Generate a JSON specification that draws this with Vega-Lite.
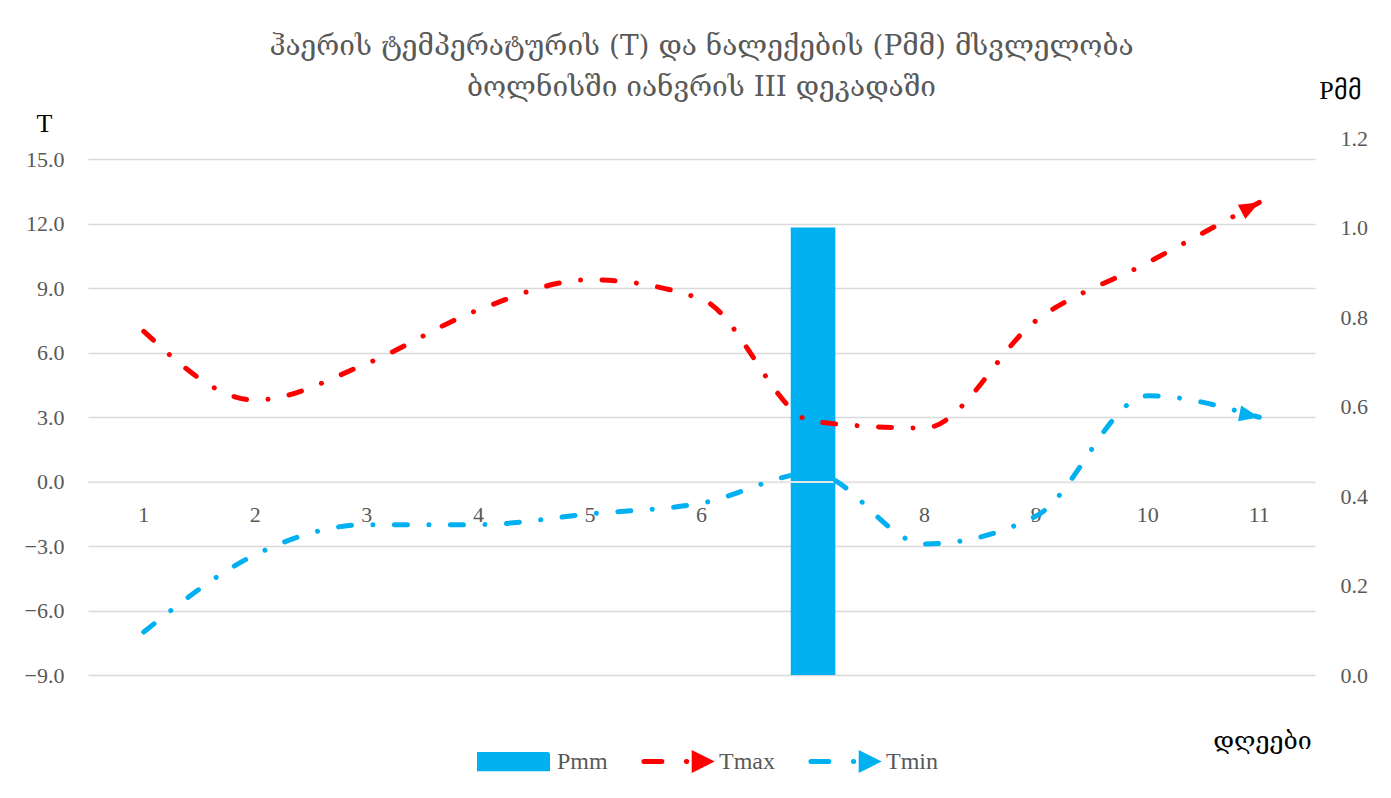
{
  "$schema": "https://vega.github.io/schema/vega-lite/v6.json",
  "width": 1227,
  "height": 537,
  "autosize": "none",
  "padding": {"left": 88, "top": 138, "right": 76, "bottom": 123},
  "background": "white",
  "config": {
    "view": {"stroke": null},
    "axis": {"labelFont": "Liberation Serif", "labelFontSize": 22, "labelColor": "#595959", "titleFontWeight": "normal"},
    "legend": {"labelFont": "Liberation Serif", "labelFontSize": 24, "labelColor": "#595959"}
  },
  "title": {
    "text": ["ჰაერის ტემპერატურის (T) და ნალექების (Pმმ)  მსვლელობა", "ბოლნისში  იანვრის III დეკადაში"],
    "font": "DejaVu Serif",
    "fontSize": 28,
    "fontWeight": "normal",
    "color": "#595959",
    "lineHeight": 41,
    "anchor": "middle",
    "frame": "group",
    "offset": 0,
    "dy": 25
  },
  "data": {
    "values": [
      {"day": 1, "Tmax": 7.0, "Tmin": -7.0, "Pmm": 0},
      {"day": 2, "Tmax": 3.8, "Tmin": -3.4, "Pmm": 0},
      {"day": 3, "Tmax": 5.5, "Tmin": -2.0, "Pmm": 0},
      {"day": 4, "Tmax": 8.0, "Tmin": -2.0, "Pmm": 0},
      {"day": 5, "Tmax": 9.4, "Tmin": -1.5, "Pmm": 0},
      {"day": 6, "Tmax": 8.5, "Tmin": -1.0, "Pmm": 0},
      {"day": 7, "Tmax": 2.8, "Tmin": 0.4, "Pmm": 1.0},
      {"day": 8, "Tmax": 2.5, "Tmin": -2.9, "Pmm": 0},
      {"day": 9, "Tmax": 7.5, "Tmin": -1.6, "Pmm": 0},
      {"day": 10, "Tmax": 10.2, "Tmin": 4.0, "Pmm": 0},
      {"day": 11, "Tmax": 13.0, "Tmin": 3.0, "Pmm": 0}
    ]
  },
  "encoding": {
    "x": {
      "field": "day",
      "type": "ordinal",
      "scale": {"type": "band", "paddingInner": 0, "paddingOuter": 0},
      "axis": {
        "orient": "bottom",
        "offset": -193,
        "labelAngle": 0,
        "domain": false,
        "ticks": false,
        "labelPadding": 22,
        "title": "დღეები",
        "titleFont": "DejaVu Serif",
        "titleFontSize": 25,
        "titleColor": "#000000",
        "titleX": 1174,
        "titleY": 258,
        "titleAlign": "center",
        "titleBaseline": "middle"
      }
    }
  },
  "layer": [
    {
      "transform": [{"filter": "datum.Pmm > 0"}],
      "mark": {"type": "bar", "width": {"band": 0.4}},
      "encoding": {
        "y": {
          "field": "Pmm",
          "type": "quantitative",
          "scale": {"domain": [0, 1.2], "nice": false, "zero": true},
          "axis": {
            "orient": "right",
            "values": [0, 0.2, 0.4, 0.6, 0.8, 1.0, 1.2],
            "format": ".1f",
            "grid": false,
            "domain": false,
            "ticks": false,
            "labelPadding": 25,
            "title": "Pმმ",
            "titleFont": "Liberation Serif",
            "titleFontSize": 26,
            "titleColor": "#000000",
            "titleAngle": 0,
            "titleX": 25,
            "titleY": -48,
            "titleAlign": "center",
            "titleBaseline": "middle"
          }
        },
        "color": {
          "datum": "Pmm",
          "type": "nominal",
          "scale": {"domain": ["Pmm", "Tmax", "Tmin"], "range": ["#00B0F0", "#FF0000", "#00B0F0"]},
          "legend": {
            "title": null,
            "orient": "none",
            "direction": "horizontal",
            "legendX": 389,
            "legendY": 587,
            "symbolSize": 4624,
            "labelOffset": 7,
            "columnPadding": 25,
            "padding": 0,
            "encode": {
              "symbols": {
                "update": {
                  "shape": [
                    {"test": "datum.value === 'Pmm'", "value": "M-1,-0.21H1V0.21H-1Z"},
                    {"value": "M-0.93,0H-0.4M0.32,0H0.33M0.55,-0.22L0.99,0L0.55,0.22Z"}
                  ],
                  "fill": [
                    {"test": "datum.value === 'Tmax'", "value": "#FF0000"},
                    {"value": "#00B0F0"}
                  ],
                  "stroke": [
                    {"test": "datum.value === 'Pmm'", "value": "transparent"},
                    {"test": "datum.value === 'Tmax'", "value": "#FF0000"},
                    {"value": "#00B0F0"}
                  ],
                  "strokeWidth": {"value": 5},
                  "strokeCap": {"value": "round"},
                  "strokeDash": {"value": [1, 0]},
                  "opacity": {"value": 1},
                  "fillOpacity": {"value": 1},
                  "strokeOpacity": {"value": 1}
                }
              }
            }
          }
        }
      }
    },
    {
      "layer": [
        {
          "mark": {"type": "rule", "color": "#E6E6E6", "strokeWidth": 1.5},
          "encoding": {"y": {"datum": 0, "type": "quantitative"}, "x": {}}
        },
        {
          "transform": [{"fold": ["Tmax", "Tmin"], "as": ["series", "T"]}],
          "mark": {
            "type": "line",
            "interpolate": "monotone",
            "strokeWidth": 5,
            "strokeCap": "round",
            "strokeDash": [13, 21.5, 0.01, 21.5]
          },
          "encoding": {
            "y": {
              "field": "T",
              "type": "quantitative",
              "scale": {"domain": [-9, 16], "nice": false, "zero": false},
              "axis": {
                "orient": "left",
                "values": [-9, -6, -3, 0, 3, 6, 9, 12, 15],
                "format": ".1f",
                "grid": true,
                "gridColor": "#D9D9D9",
                "gridWidth": 1.5,
                "domain": false,
                "ticks": false,
                "labelPadding": 24,
                "title": "T",
                "titleFont": "Liberation Serif",
                "titleFontSize": 26,
                "titleColor": "#000000",
                "titleAngle": 0,
                "titleX": -44,
                "titleY": -15,
                "titleAlign": "center",
                "titleBaseline": "middle"
              }
            },
            "color": {"field": "series", "type": "nominal", "legend": {"title": null}},
            "detail": {"field": "series"}
          }
        },
        {
          "transform": [{"filter": "datum.day === 11"}],
          "mark": {"type": "point", "shape": "M0,0L-2,-0.8L-2,0.8Z", "size": 400, "filled": true, "color": "#FF0000", "opacity": 1, "angle": 332},
          "encoding": {"y": {"field": "Tmax", "type": "quantitative"}}
        },
        {
          "transform": [{"filter": "datum.day === 11"}],
          "mark": {"type": "point", "shape": "M0,0L-2,-0.8L-2,0.8Z", "size": 400, "filled": true, "color": "#00B0F0", "opacity": 1, "angle": 11},
          "encoding": {"y": {"field": "Tmin", "type": "quantitative"}}
        }
      ]
    }
  ],
  "resolve": {"scale": {"y": "independent"}}
}
